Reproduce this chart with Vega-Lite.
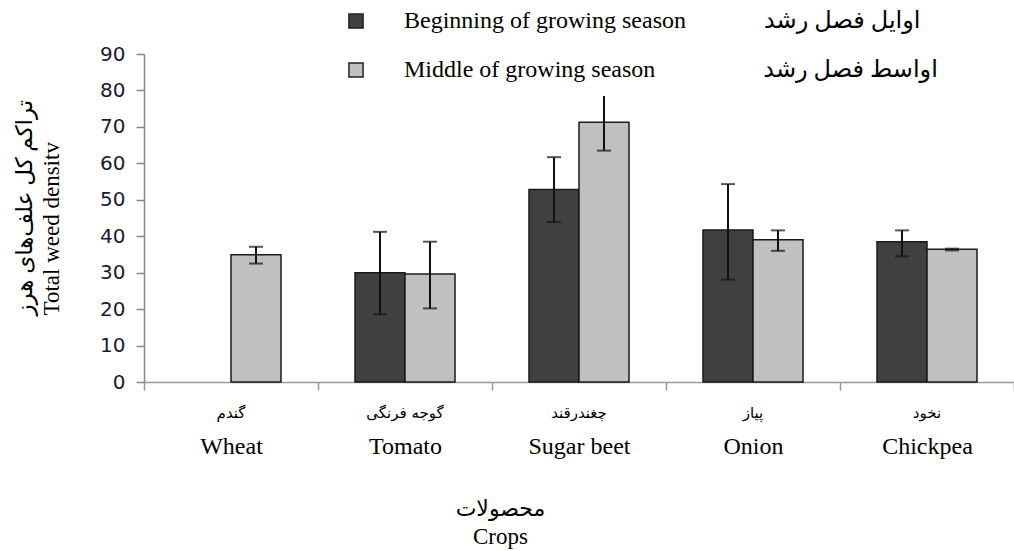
{
  "$schema": "https://vega.github.io/schema/vega-lite/v6.json",
  "width": 870,
  "height": 328,
  "autosize": {"type": "none"},
  "padding": {"left": 144, "top": 54, "right": 0, "bottom": 169},
  "background": "white",
  "config": {
    "view": {"stroke": null},
    "font": "Liberation Serif",
    "axisY": {
      "tickCount": 10, "grid": false,
      "labelFont": "DejaVu Sans", "labelFontSize": 20, "labelColor": "#1a1a33", "labelPadding": 11,
      "tickSize": 8, "tickColor": "#888", "domainColor": "#888", "domainWidth": 1.5, "tickWidth": 1.5,
      "titleFont": "Liberation Serif, DejaVu Sans", "titleFontSize": 23, "titleFontWeight": "normal", "titleColor": "#000",
      "titleAngle": -90, "titleAlign": "left", "titleBaseline": "bottom", "titleX": -108, "titleY": 261, "titleLineHeight": 27
    }
  },
  "data": {
    "values": [
      {"crop": "Wheat", "season": "Middle", "value": 34.9, "lo": 32.5, "hi": 37.1},
      {"crop": "Tomato", "season": "Beginning", "value": 30.0, "lo": 18.6, "hi": 41.2},
      {"crop": "Tomato", "season": "Middle", "value": 29.6, "lo": 20.2, "hi": 38.5},
      {"crop": "Sugar beet", "season": "Beginning", "value": 52.8, "lo": 43.9, "hi": 61.7},
      {"crop": "Sugar beet", "season": "Middle", "value": 71.3, "lo": 63.5, "hi": 78.5},
      {"crop": "Onion", "season": "Beginning", "value": 41.7, "lo": 28.1, "hi": 54.3},
      {"crop": "Onion", "season": "Middle", "value": 39.0, "lo": 36.0, "hi": 41.6},
      {"crop": "Chickpea", "season": "Beginning", "value": 38.5, "lo": 34.5, "hi": 41.6},
      {"crop": "Chickpea", "season": "Middle", "value": 36.4, "lo": 36.1, "hi": 36.6}
    ]
  },
  "encoding": {
    "xOffset": {"field": "season", "type": "nominal", "sort": ["Beginning", "Middle"], "scale": {"domain": ["Beginning", "Middle"], "paddingInner": 0, "paddingOuter": 0.74}}
  },
  "layer": [
    {
      "mark": {"type": "bar", "stroke": "#1a1a1a", "strokeWidth": 1.5},
      "encoding": {
        "x": {
          "field": "crop", "type": "nominal",
          "sort": ["Wheat", "Tomato", "Sugar beet", "Onion", "Chickpea"],
          "scale": {"domain": ["Wheat", "Tomato", "Sugar beet", "Onion", "Chickpea"], "paddingInner": 0, "paddingOuter": 0},
          "axis": {
            "orient": "bottom",
            "title": "Crops", "labelAngle": 0, "labelFont": "Liberation Serif", "labelFontSize": 24, "labelColor": "#000",
            "labelPadding": 44, "tickSize": 8, "tickBand": "extent", "domainColor": "#999", "tickColor": "#999", "domainWidth": 1.5, "tickWidth": 1.5,
            "titleFont": "Liberation Serif", "titleFontSize": 23, "titleFontWeight": "normal", "titleColor": "#000",
            "titleX": 356, "titleY": 143, "titleBaseline": "top"
          }
        },
        "y": {
          "field": "value", "type": "quantitative", "scale": {"domain": [0, 90]},
          "axis": {"title": ["تراکم کل علف‌های هرز", "Total weed densitv"]}
        },
        "fill": {
          "field": "season", "type": "nominal",
          "scale": {"domain": ["Beginning", "Middle"], "range": ["#404040", "#c0c0c0"]},
          "legend": {
            "orient": "none", "legendX": 200, "legendY": -45, "title": null, "direction": "vertical",
            "labelFont": "Liberation Serif, DejaVu Sans", "labelFontSize": 24, "labelColor": "#000", "labelLimit": 900,
            "symbolType": "square", "symbolSize": 200, "symbolStrokeColor": "#222", "symbolStrokeWidth": 1.5,
            "rowPadding": 25, "labelOffset": 36,
            "labelExpr": "datum.value === 'Beginning' ? 'Beginning of growing season\u00a0\u00a0\u00a0\u00a0\u00a0\u00a0\u00a0\u00a0\u00a0\u00a0\u00a0\u00a0\u00a0اوایل فصل رشد' : 'Middle of growing season\u00a0\u00a0\u00a0\u00a0\u00a0\u00a0\u00a0\u00a0\u00a0\u00a0\u00a0\u00a0\u00a0\u00a0\u00a0\u00a0\u00a0\u00a0اواسط فصل رشد'"
          }
        }
      }
    },
    {
      "mark": {"type": "rule", "color": "#111", "strokeWidth": 2},
      "encoding": {
        "x": {
          "field": "crop", "type": "nominal",
          "sort": ["Wheat", "Tomato", "Sugar beet", "Onion", "Chickpea"],
          "axis": {
            "orient": "bottom",
            "title": "محصولات", "labelAngle": 0, "labelFont": "DejaVu Sans", "labelFontSize": 15, "labelColor": "#000",
            "domain": false, "ticks": false, "tickSize": 0, "labelPadding": 23,
            "labelExpr": "datum.value === 'Wheat' ? 'گندم' : datum.value === 'Tomato' ? 'گوجه فرنگی' : datum.value === 'Sugar beet' ? 'چغندرقند' : datum.value === 'Onion' ? 'پیاز' : 'نخود'",
            "titleFont": "Liberation Serif, DejaVu Sans", "titleFontSize": 22, "titleFontWeight": "normal", "titleColor": "#000",
            "titleX": 356, "titleY": 116, "titleBaseline": "top"
          }
        },
        "y": {"field": "lo", "type": "quantitative", "axis": {"title": ["تراکم کل علف‌های هرز", "Total weed densitv"]}},
        "y2": {"field": "hi"}
      }
    },
    {
      "mark": {"type": "tick", "color": "#111", "thickness": 2, "size": 14},
      "encoding": {
        "x": {"field": "crop", "type": "nominal", "sort": ["Wheat", "Tomato", "Sugar beet", "Onion", "Chickpea"], "axis": null},
        "y": {"field": "lo", "type": "quantitative", "axis": {"title": ["تراکم کل علف‌های هرز", "Total weed densitv"]}}
      }
    },
    {
      "transform": [{"filter": "!(datum.crop === 'Sugar beet' && datum.season === 'Middle')"}],
      "mark": {"type": "tick", "color": "#111", "thickness": 2, "size": 14},
      "encoding": {
        "x": {"field": "crop", "type": "nominal", "sort": ["Wheat", "Tomato", "Sugar beet", "Onion", "Chickpea"], "axis": null},
        "y": {"field": "hi", "type": "quantitative", "axis": {"title": ["تراکم کل علف‌های هرز", "Total weed densitv"]}}
      }
    }
  ],
  "resolve": {"axis": {"x": "independent"}}
}
